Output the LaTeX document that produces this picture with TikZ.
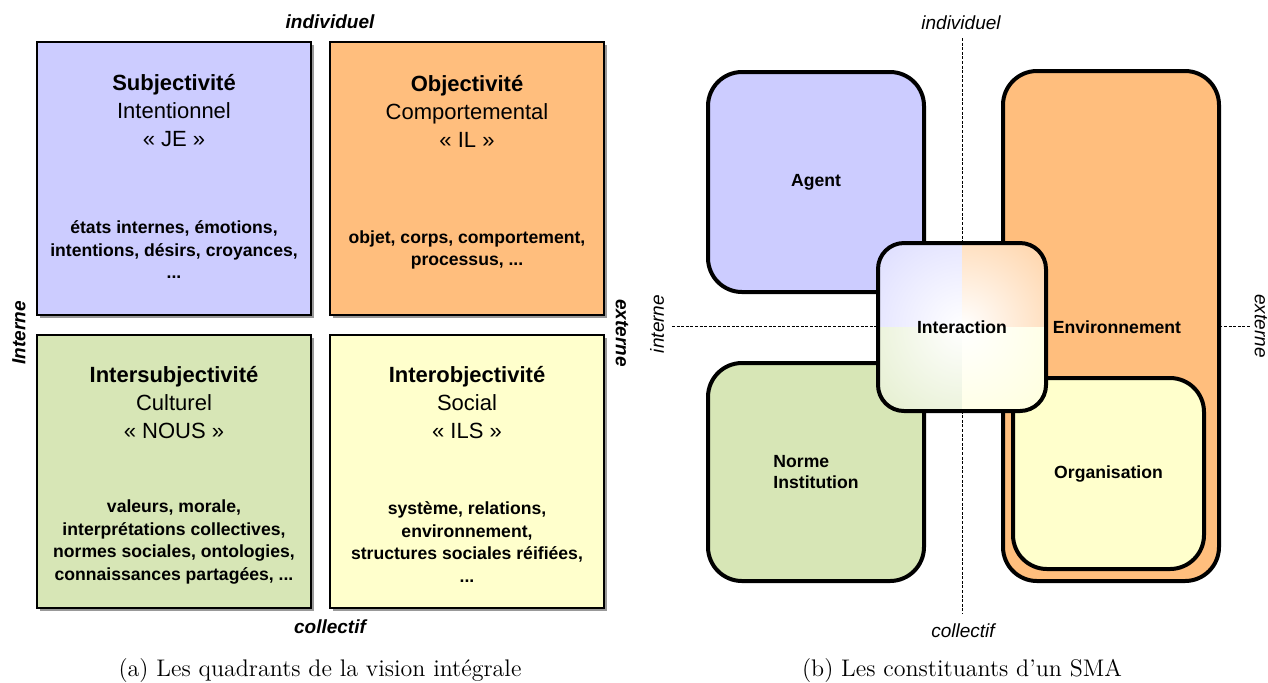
\documentclass[tikz,border=0pt]{standalone}
\usepackage{fontspec}
\newfontfamily\arialfont{Liberation Sans}
\usetikzlibrary{%
        shadows
    }
\definecolor{quadblue}{RGB}{204, 204, 255}
\definecolor{quadorange}{RGB}{255, 190, 125}
\definecolor{quadgreen}{RGB}{215, 230, 182}
\definecolor{quadyellow}{RGB}{255, 255, 204}
\tikzset{%
    quadbox/.style={%
        draw, line width=1pt, inner sep=0pt,
        minimum width=137pt, minimum height=136.5pt,
        drop shadow={shadow xshift=1.6pt, shadow yshift=-1.6pt,
            fill=black, opacity=0.4}
    },
    headtext/.style={%
        align=center,
        font=\arialfont\fontsize{11}{14}\selectfont
    },
    bodytext/.style={%
        align=center,
        font=\arialfont\bfseries\fontsize{8.8}{11.25}\selectfont
    },
    axisbold/.style={font=\arialfont\bfseries\itshape\fontsize{9.5}{11}\selectfont},
    axislabel/.style={font=\arialfont\itshape\fontsize{9.5}{11}\selectfont},
    smabox/.style={%
        draw, line width=2pt, rounded corners=17pt, inner sep=0pt
    },
    smatext/.style={font=\arialfont\bfseries\fontsize{8.8}{10.5}\selectfont},
    axisline/.style={dash pattern=on 1.5pt off 0.8pt, line width=0.4pt},
    captiontext/.style={font=\fontsize{12}{14}\selectfont}
}

\begin{document}
\begin{tikzpicture}[x=0.5pt, y=-0.5pt]

    \useasboundingbox (0, 0) rectangle (1268, 682);

    % (a) Quadrants
    \node[quadbox, fill=quadblue] (subj-box) at (174, 178.5) {};
    \node[quadbox, fill=quadorange] (obj-box) at (467, 178.5) {};
    \node[quadbox, fill=quadgreen] (intersubj-box) at (174, 471) {};
    \node[quadbox, fill=quadyellow] (interobj-box) at (467, 471) {};

    \node[headtext] (subj-head) at (174, 111)
        {\textbf{Subjectivité}\\Intentionnel\\« JE »};
    \node[bodytext] (subj-body) at (174, 250)
        {états internes, émotions,\\intentions, désirs, croyances,\\...};

    \node[headtext] (obj-head) at (467, 111)
        {\textbf{Objectivité}\\Comportemental\\« IL »};
    \node[bodytext] (obj-body) at (467, 250)
        {objet, corps, comportement,\\processus, ...};

    \node[headtext] (intersubj-head) at (174, 403)
        {\textbf{Intersubjectivité}\\Culturel\\« NOUS »};
    \node[bodytext] (intersubj-body) at (174, 542)
        {valeurs, morale,\\interprétations collectives,\\normes sociales, ontologies,\\connaissances partagées, ...};

    \node[headtext] (interobj-head) at (467, 403)
        {\textbf{Interobjectivité}\\Social\\« ILS »};
    \node[bodytext] (interobj-body) at (467, 542)
        {système, relations,\\environnement,\\structures sociales réifiées,\\...};

    \node[axisbold] (a-ind) at (330, 22) {individuel};
    \node[axisbold] (a-col) at (330, 627) {collectif};
    \node[axisbold, rotate=90] (a-int) at (19, 333) {Interne};
    \node[axisbold, rotate=-90] (a-ext) at (622, 333) {externe};

    \node[captiontext] (cap-a) at (320, 670)
        {(a) Les quadrants de la vision intégrale};


    % (b) Constituants
    \coordinate (b-top) at (962, 38);
    \coordinate (b-bottom) at (962, 614);
    \coordinate (b-left) at (672, 326);
    \coordinate (b-right) at (1250, 326);
    \draw[axisline] (b-top) -- (b-bottom);
    \draw[axisline] (b-left) -- (b-right);

    \node[smabox, fill=quadblue, minimum width=108pt, minimum height=110pt,
        smatext] (agent) at (816, 182) {Agent};
    \node[smabox, fill=quadorange, minimum width=108pt, minimum height=255pt]
        (env) at (1111, 326) {};
    \node[smatext] (env-label) at (1117, 327) {Environnement};
    \node[smabox, fill=quadyellow, minimum width=95.5pt, minimum height=95.5pt,
        smatext] (orga) at (1108.5, 473.5) {Organisation};
    \node[smabox, fill=quadgreen, minimum width=108pt, minimum height=109pt,
        smatext, align=left] (norme) at (816, 472) {Norme\\Institution};

    \begin{scope}
        \clip[rounded corners=13pt] (878, 243) rectangle (1046, 411);
        \foreach \qx/\qy/\qcol in {878/243/quadblue, 962/243/quadorange,
                                   878/327/quadgreen, 962/327/quadyellow}{%
            \begin{scope}
                \clip (\qx, \qy) rectangle ++(84, 84);
                \shade[inner color=white, outer color=\qcol]
                    (962, 327) circle (88pt);
            \end{scope}
        }
    \end{scope}
    \node[smabox, rounded corners=13pt, minimum width=84pt, minimum height=84pt,
        smatext] (interaction) at (962, 327) {Interaction};

    \node[axislabel] (b-ind) at (961, 23) {individuel};
    \node[axislabel] (b-col) at (963, 631) {collectif};
    \node[axislabel, rotate=90] (b-int) at (657, 324) {interne};
    \node[axislabel, rotate=-90, inner sep=0pt] (b-ext) at (1261, 326) {externe};

    \node[captiontext] (cap-b) at (962, 670)
        {(b) Les constituants d’un SMA};

\end{tikzpicture}
\end{document}
